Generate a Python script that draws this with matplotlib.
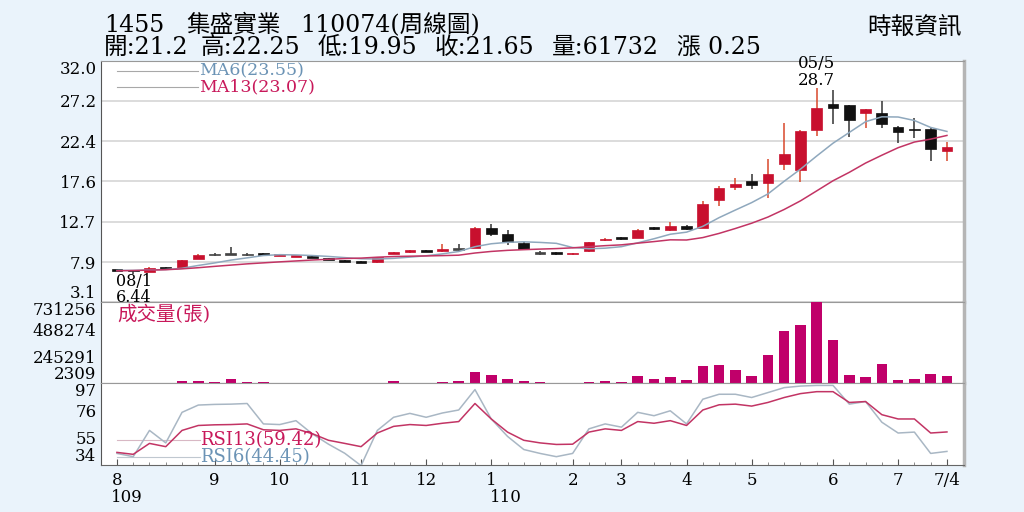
import matplotlib
matplotlib.use('Agg')
import matplotlib.pyplot as plt
import numpy as np
from matplotlib.transforms import blended_transform_factory

plt.rcParams['font.family'] = ['DejaVu Serif', 'Noto Sans CJK TC']

# weekly bars, 109/08 .. 110/07
opens = [7.0, 6.95, 6.7, 7.22, 7.15, 8.3, 8.8, 8.85, 8.8, 8.95, 8.68, 8.58, 8.6,
         8.34, 8.1, 7.95, 7.85, 8.9, 9.05, 9.35, 9.2, 9.5, 9.6, 12.0, 11.2, 10.2,
         9.0, 9.05, 8.85, 9.2, 10.5, 10.9, 10.8, 12.05, 11.7, 12.25, 12.0, 15.3,
         16.9, 17.6, 17.4, 19.6, 18.9, 23.7, 26.8, 26.7, 25.7, 25.7, 24.1, 23.8,
         23.9, 21.2]
highs = [7.02, 7.0, 7.25, 7.25, 8.15, 8.85, 9.0, 9.7, 9.0, 9.0, 8.75, 8.68, 8.62,
         8.36, 8.12, 7.98, 8.55, 9.15, 9.35, 9.4, 10.1, 10.1, 12.05, 12.4, 11.7,
         10.25, 9.2, 9.1, 9.0, 10.35, 10.75, 10.95, 11.8, 12.1, 12.7, 12.3, 15.2,
         17.0, 18.0, 18.5, 20.3, 24.6, 23.7, 28.7, 28.5, 26.75, 26.25, 27.15,
         24.15, 25.15, 23.95, 22.25]
lows = [6.9, 6.44, 6.65, 7.0, 7.1, 8.25, 8.6, 8.7, 8.65, 8.65, 8.6, 8.55, 8.35,
        8.15, 7.95, 7.8, 7.82, 8.85, 9.0, 9.12, 9.15, 9.2, 9.55, 10.96, 10.0,
        9.45, 8.8, 8.8, 8.8, 9.15, 10.45, 10.55, 10.75, 11.7, 11.65, 11.75,
        11.95, 14.6, 16.5, 16.6, 15.6, 18.9, 17.5, 23.0, 24.45, 22.9, 24.0,
        23.97, 22.2, 22.8, 20.0, 19.95]
closes = [6.97, 6.8, 7.2, 7.05, 8.1, 8.8, 8.8, 8.85, 8.8, 8.7, 8.72, 8.62, 8.4,
          8.18, 8.0, 7.85, 8.5, 9.1, 9.3, 9.15, 9.4, 9.5, 12.0, 11.2, 10.3, 9.5,
          9.0, 8.85, 9.0, 10.3, 10.7, 10.6, 11.75, 11.8, 12.25, 11.8, 14.9, 16.8,
          17.2, 17.15, 18.5, 20.9, 23.6, 26.3, 26.4, 24.9, 26.2, 24.4, 23.5,
          23.75, 21.4, 21.65]
ma6 = [6.9, 6.9, 6.95, 7.0, 7.15, 7.49, 7.79, 8.13, 8.4, 8.68, 8.78, 8.75, 8.68,
       8.57, 8.43, 8.29, 8.26, 8.34, 8.49, 8.65, 8.88, 9.16, 9.74, 10.09, 10.26,
       10.32, 10.25, 10.14, 9.64, 9.49, 9.56, 9.74, 10.2, 10.69, 11.23, 11.48,
       12.18, 13.22, 14.13, 15.02, 16.06, 17.58, 19.03, 20.61, 22.14, 23.43,
       24.72, 25.3, 25.28, 24.86, 24.03, 23.55]
ma13 = [6.85, 6.88, 6.93, 6.98, 7.08, 7.22, 7.38, 7.53, 7.68, 7.8, 7.92, 8.03,
        8.14, 8.23, 8.32, 8.37, 8.48, 8.56, 8.6, 8.63, 8.67, 8.72, 8.98, 9.17,
        9.3, 9.38, 9.45, 9.51, 9.6, 9.74, 9.86, 9.96, 10.16, 10.35, 10.56, 10.54,
        10.83, 11.33, 11.92, 12.55, 13.29, 14.2, 15.23, 16.43, 17.64, 18.65,
        19.76, 20.7, 21.6, 22.28, 22.63, 23.07]
volume = [4000, 5000, 4000, 3000, 23000, 23000, 11000, 38000, 14000, 8000, 5000,
          3000, 3000, 3000, 3000, 3000, 5000, 20000, 6000, 5000, 9000, 17000,
          103000, 74000, 40000, 20000, 11000, 5000, 5000, 11000, 17000, 8000,
          62000, 35000, 59000, 26000, 154000, 160000, 118000, 68000, 255000,
          475000, 529000, 731256, 386000, 71000, 53000, 169000, 29000, 41000,
          86000, 61732]
rsi6 = [42.9, 40.4, 60.6, 51.0, 74.5, 80.1, 80.6, 80.8, 81.3, 65.6, 65.1, 68.1,
        58.0, 50.0, 43.0, 33.5, 60.6, 70.7, 73.7, 70.7, 74.0, 76.3, 92.0, 69.4,
        56.0, 45.9, 42.9, 40.4, 42.9, 61.8, 65.6, 63.1, 74.5, 71.9, 75.7, 65.6,
        84.6, 88.4, 88.4, 85.9, 89.7, 93.5, 94.7, 95.2, 95.2, 80.8, 82.8, 66.9,
        58.6, 59.3, 42.9, 44.45]
rsi13 = [43.7, 42.2, 50.6, 48.1, 60.6, 64.4, 64.9, 65.1, 65.6, 61.1, 60.6, 61.8,
         58.1, 53.0, 50.6, 48.1, 58.6, 63.7, 65.1, 64.4, 66.1, 67.4, 81.3, 69.4,
         59.3, 53.0, 51.0, 49.8, 50.0, 59.3, 61.8, 60.6, 67.4, 66.1, 68.1, 64.4,
         76.3, 80.3, 80.8, 79.3, 82.1, 85.9, 88.9, 90.4, 90.4, 82.1, 82.8, 72.7,
         69.4, 69.4, 58.6, 59.42]

month_pos = [0, 6, 10, 15, 19, 23, 28, 31, 35, 39, 44, 48, 51]
month_lbl = ['8', '9', '10', '11', '12', '1', '2', '3', '4', '5', '6', '7', '7/4']
price_ticks = [3.1, 7.9, 12.7, 17.6, 22.4, 27.2, 32.0]
vol_ticks = [2309, 245291, 488274, 731256]
rsi_ticks = [34, 55, 76, 97]

RED = '#c8102e'
DARK = '#111111'
MAG = '#c0006a'
PINK = '#c23464'
STEEL = '#8fa8bd'
BG = '#eaf3fb'

o = np.array(opens)
c = np.array(closes)
x = np.arange(len(closes))

fig = plt.figure(figsize=(10.24, 5.12), dpi=100, facecolor=BG)
L, W = 0.0983, 0.8433
ax = fig.add_axes([L, 0.410, W, 0.471])
axv = fig.add_axes([L, 0.252, W, 0.158], sharex=ax)
axr = fig.add_axes([L, 0.0918, W, 0.160], sharex=ax)

for a in (ax, axv, axr):
    a.set_facecolor('white')
    a.spines['left'].set_color('#555555')
    a.spines['top'].set_color('#999999')
    a.spines['bottom'].set_color('#666666')
    a.spines['right'].set_color('#b5b5b5')
    a.spines['right'].set_linewidth(2.5)
    a.tick_params(axis='y', length=0, pad=3, labelsize=12)

# candles
body_col = np.where(c > o, RED, np.where(c < o, DARK, '#444444'))
wick_col = np.where(c > o, '#d9482b', '#333333')
ax.vlines(x, lows, highs, colors=wick_col, lw=1.1, zorder=2)
h = np.maximum(np.abs(c - o), 0.22)
ax.bar(x, h, bottom=(o + c) / 2 - h / 2, width=0.66, color=body_col,
       edgecolor=body_col, lw=0.5, zorder=3)
ax.plot(x, ma6, color=STEEL, lw=1.1, zorder=4)
ax.plot(x, ma13, color=PINK, lw=1.1, zorder=4)

ax.set_xlim(-1.0, 52.06)
ax.set_ylim(3.1, 32.0)
ax.set_yticks(price_ticks, [f'{v:.1f}' for v in price_ticks])
ax.yaxis.grid(True, color='#d6d6d6', lw=1.2)
ax.set_axisbelow(True)
ax.tick_params(axis='x', bottom=False, labelbottom=False)
yl = ax.get_yticklabels()
yl[0].set_va('bottom')
yl[-1].set_va('top')

ax.plot([0.019, 0.113], [0.957, 0.957], transform=ax.transAxes, color='#a8a8a8', lw=0.8)
ax.plot([0.019, 0.113], [0.891, 0.891], transform=ax.transAxes, color='#a8a8a8', lw=0.8)
ax.text(0.1139, 0.957, 'MA6(23.55)', transform=ax.transAxes, color='#6b93b5',
        fontsize=12.5, va='center', ha='left')
ax.text(0.1139, 0.891, 'MA13(23.07)', transform=ax.transAxes, color='#c8185a',
        fontsize=12.5, va='center', ha='left')
ax.text(43, 31.7, '05/5', ha='center', va='center', fontsize=12, clip_on=False)
ax.text(43, 29.7, '28.7', ha='center', va='center', fontsize=12, clip_on=False)
ax.text(-0.05, 5.55, '08/1', ha='left', va='center', fontsize=11.5, clip_on=False)
ax.text(-0.05, 3.6, '6.44', ha='left', va='center', fontsize=11.5, clip_on=False, zorder=6)

# volume
axv.bar(x, volume, width=0.65, color=MAG, zorder=3)
axv.set_ylim(2309, 731256)
axv.set_yticks(vol_ticks, [str(v) for v in vol_ticks])
axv.tick_params(axis='x', bottom=False, labelbottom=False)
vl = axv.get_yticklabels()
vl[0].set_va('bottom')
vl[-1].set_va('top')
axv.text(0.019, 0.85, '成交量(張)', transform=axv.transAxes, color='#c8185a',
         fontsize=14, va='center', ha='left')

# rsi
axr.plot(x, rsi6, color='#a9b7c4', lw=1.1, zorder=3)
axr.plot(x, rsi13, color=PINK, lw=1.1, zorder=3)
axr.set_ylim(34, 97)
axr.set_yticks(rsi_ticks, [str(v) for v in rsi_ticks])
rl = axr.get_yticklabels()
rl[0].set_va('bottom')
rl[-1].set_va('top')
axr.plot([0.019, 0.115], [0.305, 0.305], transform=axr.transAxes, color='#d8b8c4', lw=0.8)
axr.plot([0.019, 0.115], [0.098, 0.098], transform=axr.transAxes, color='#c0c8d0', lw=0.8)
axr.text(0.115, 0.305, 'RSI13(59.42)', transform=axr.transAxes, color='#c8185a',
         fontsize=13, va='center', ha='left', zorder=5)
axr.text(0.115, 0.098, 'RSI6(44.45)', transform=axr.transAxes, color='#6b93b5',
         fontsize=13, va='center', ha='left', zorder=5)

axr.set_xticks(month_pos, month_lbl)
axr.set_xticks(x, minor=True)
axr.tick_params(axis='x', which='major', direction='in', length=4, pad=5,
                labelsize=12, color='#555555')
axr.tick_params(axis='x', which='minor', direction='in', length=2.5, color='#777777')
tr = blended_transform_factory(axr.transData, axr.transAxes)
axr.text(-0.35, -0.40, '109', transform=tr, fontsize=12, ha='left', va='center')
axr.text(22.9, -0.40, '110', transform=tr, fontsize=12, ha='left', va='center')

# header
fs = 17
fig.text(104 / 1024, 1 - 25 / 512, '1455', fontsize=fs, va='center')
fig.text(186 / 1024, 1 - 25 / 512, '集盛實業', fontsize=fs, va='center')
fig.text(300 / 1024, 1 - 25 / 512, '110074(周線圖)', fontsize=fs, va='center')
line2 = ['開:21.2', '高:22.25', '低:19.95', '收:21.65', '量:61732', '漲 0.25']
line2_x = [104, 201, 318, 435, 552, 677]
for s, px in zip(line2, line2_x):
    fig.text(px / 1024, 1 - 47 / 512, s, fontsize=fs, va='center')
fig.text(962 / 1024, 1 - 27 / 512, '時報資訊', fontsize=17, va='center', ha='right')

fig.savefig('out.png', dpi=100, facecolor=BG)
